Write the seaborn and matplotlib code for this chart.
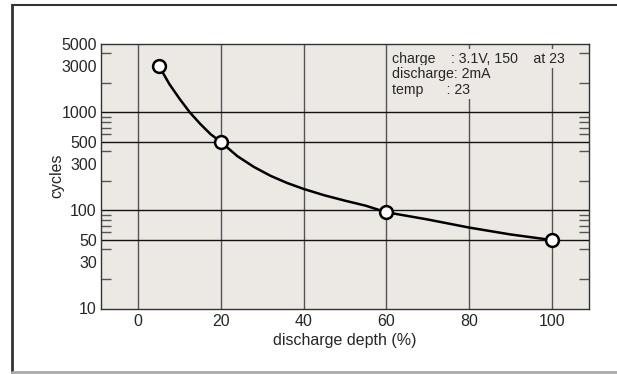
import matplotlib
matplotlib.use("Agg")
import matplotlib.pyplot as plt
import seaborn as sns
import pandas as pd
from matplotlib.lines import Line2D
from matplotlib.ticker import FixedLocator, NullFormatter

# data
depth_pts = [5, 20, 60, 100]
cycles_pts = [3000, 500, 96, 50]
curve_depth = [5, 7.5, 10, 12.5, 15, 17.5, 20, 24, 28, 32, 36, 40, 45, 50, 55,
               60, 70, 80, 90, 100]
curve_cycles = [3000, 1960, 1380, 1000, 765, 601, 500, 358, 278, 226, 191, 166,
                143, 126, 112, 96, 81, 67, 57, 50]
x_ticks = [0, 20, 40, 60, 80, 100]
y_ticks = [10, 30, 50, 100, 300, 500, 1000, 3000, 5000]
y_grid = [50, 100, 500, 1000]
y_minor = [20, 30, 40, 60, 70, 80, 90, 200, 300, 400, 600, 700, 800, 900,
           2000, 3000, 4000]
notes = ["charge    : 3.1V, 150    at 23", "discharge: 2mA", "temp      : 23"]

sns.set_style("white")
plt.rcParams["font.family"] = ["Liberation Sans", "DejaVu Sans"]

fig = plt.figure(figsize=(6.17, 3.74), dpi=100)
W, H = 617, 374
ax = fig.add_axes([101 / W, 1 - 308.5 / H, (589.3 - 101) / W, (308.5 - 44) / H])
ax.set_facecolor("#ECE9E5")

ax.set_yscale("log")
ax.set_xlim(-9, 109.1)
ax.set_ylim(10, 5000)

# grid
for xv in x_ticks:
    ax.axvline(xv, color="#555555", lw=1.0, zorder=1)
for yv in y_grid:
    ax.axhline(yv, color="#111111", lw=1.0, zorder=1)

# curve + markers
curve_df = pd.DataFrame({"depth": curve_depth, "cycles": curve_cycles})
pts_df = pd.DataFrame({"depth": depth_pts, "cycles": cycles_pts})
sns.lineplot(data=curve_df, x="depth", y="cycles", ax=ax, color="black", lw=1.8,
             sort=False, zorder=3)
sns.scatterplot(data=pts_df, x="depth", y="cycles", ax=ax, s=85, marker="o",
                facecolor="white", edgecolor="black", linewidth=1.8, zorder=4)

ax.yaxis.set_major_locator(FixedLocator(y_ticks))
ax.yaxis.set_minor_locator(FixedLocator(y_minor))
ax.yaxis.set_minor_formatter(NullFormatter())
ax.set_yticklabels([str(v) for v in y_ticks])
ax.set_xticks(x_ticks)
ax.set_xticklabels([str(v) for v in x_ticks])
ax.tick_params(axis="y", which="both", direction="in", left=True, right=True,
               length=7.5, width=1.0, color="#555555", labelsize=11.5, pad=3)
ax.tick_params(axis="y", which="major", length=0)
ax.tick_params(axis="x", which="both", length=0, labelsize=11.5, pad=4)

for s in ax.spines.values():
    s.set_color("#333333")
    s.set_linewidth(1.0)

ax.set_xlabel("discharge depth (%)", fontsize=11.5, labelpad=3)
ax.set_ylabel("cycles", fontsize=11.5)
ax.yaxis.set_label_coords(-0.076, 0.5)

# notes with background boxes covering gridlines
ys = [3550, 2450, 1690]
for t, yv in zip(notes, ys):
    ax.text(61.4, yv, t, fontsize=10.2, va="center", ha="left", zorder=2,
            bbox=dict(facecolor="#ECE9E5", edgecolor="none", pad=1.5))

# outer frame
fig.add_artist(Line2D([12 / W, 1], [1 - 5 / H, 1 - 5 / H], color="#333333", lw=1.5))
fig.add_artist(Line2D([12 / W, 12 / W], [1 - 5 / H, 1 - 372 / H], color="#333333", lw=2))
fig.add_artist(Line2D([12 / W, 1], [1 - 372 / H, 1 - 372 / H], color="#aaaaaa", lw=2))

fig.savefig("out.png", dpi=100)
